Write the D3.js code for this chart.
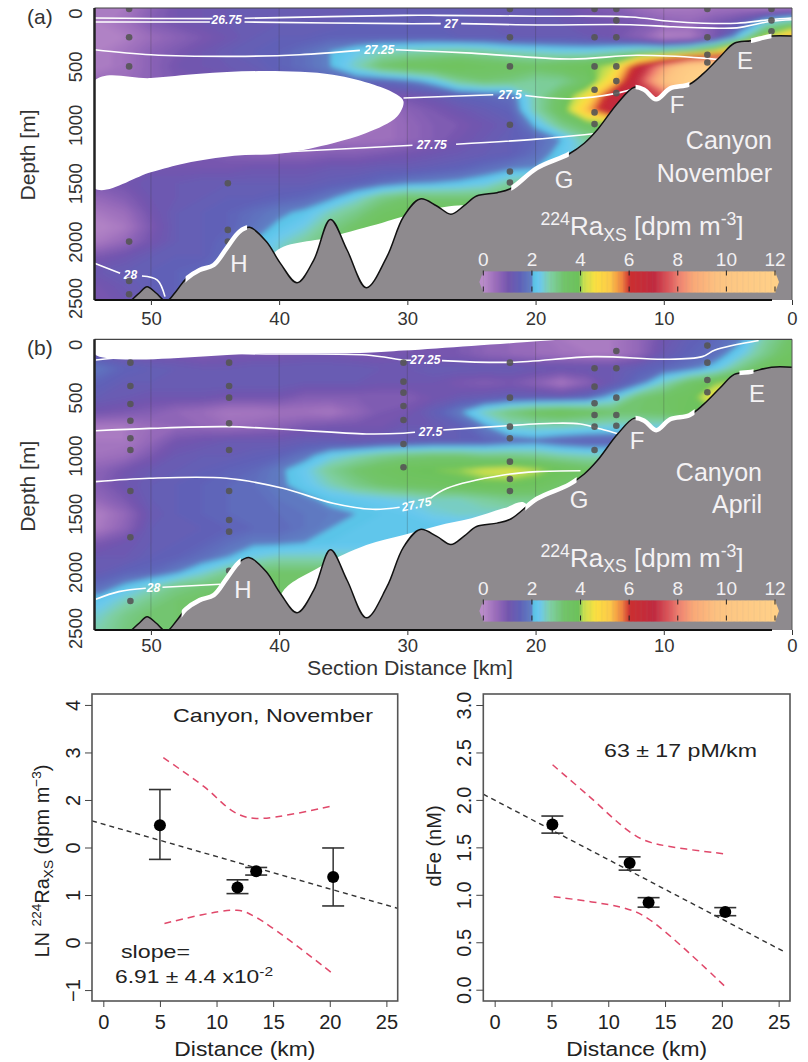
<!DOCTYPE html>
<html>
<head>
<meta charset="utf-8">
<script src="https://cdn.jsdelivr.net/npm/d3@7"></script>
<style>
  body { margin: 0; background: #fff; }
  text { font-family: "Liberation Sans", Arial, sans-serif; }
</style>
</head>
<body>
<div id="chart"></div>
<script>

// section grid: columns are km 56,54,...,0 and rows are depth 0,125,...,2500
var gridKm = d3.range(56, -1, -2);
var gridDepth = d3.range(0, 2501, 125);

var raNovember = [
  [.2,.2,.3,.7,1, 1.1,1.2,1.3,1.3,1.3, 1.3,1.3,1.3,1.3,1.3, 1.3,1.3,1.3,1.3,1.1, .9,.8,.5,.3,.3, .4,.4,.3,.4],
  [.2,.2,.4,.8,1, 1.1,1.2,1.3,1.3,1.3, 1.3,1.4,1.4,1.4,1.4, 1.4,1.3,1.3,1.3,1.2, 1.1,1,.9,.7,.6, .9,1.3,2.4,3],
  [.1,.1,.2,.5,.7, .9,1.1,1.3,1.4,1.4, 1.5,1.5,1.5,1.5,1.5, 1.4,1.4,1.3,1.3,1.3, 1.2,1,.7,.1,.2, .9,2.4,4.2,5.5],
  [.2,.2,.4,.7,.9, 1.1,1.3,1.4,1.5,1.7, 2,2.3,2.6,2.7,2.8, 2.9,2.8,2.6,2.5,2.4, 2.4,2.6,2.9,3.1,3.5, 4.4,6,6,6],
  [.2,.2,.4,.7,1, 1.1,1.2,1.3,1.5,1.7, 2,2.6,3.3,3.6,3.7, 3.8,3.6,3.5,3.4,3.6, 3.8,4.2,6.5,8.5,11, 12,12,12,12],
  [.5,.5,.5,.7,.9, 1,1,1.2,1.3,1.4, 1.5,1.6,1.6,1.8,2.2, 2.9,3.2,3.1,2.8,2.9, 3.4,4.9,7.2,9.5,12, 12,12,12,12],
  [.5,.5,.5,.6,.8, .9,.9,1,1,1, 1,1,.9,1,1.2, 1.5,1.6,1.7,2.7,3.5, 4.5,6.6,7,7.5,9, 9,9,9,9],
  [.5,.5,.5,.6,.7, .7,.7,.7,.7,.7, .3,.3,.4,.7,.9, 1.1,1.3,1.5,2.7,3.6, 5.3,7,7,7,7, 7,7,7,7],
  [.5,.5,.5,.6,.7, .7,.7,.7,.5,.3, .2,.3,.4,.6,.8, .9,1.1,1.3,2.1,3, 3.5,3.8,3.8,3.8,3.8, 3.8,3.8,3.8,3.8],
  [.5,.5,.5,.6,.7, .7,.7,.7,.6,.5, .4,.4,.4,.6,.8, 1,1.2,1.4,1.6,2, 2.8,3,3,3,3, 3,3,3,3],
  [.7,.7,.8,.9,.9, .9,.8,.7,.7,.7, .8,.8,.9,1,1.1, 1.2,1.3,1.4,1.7,2.2, 2.6,2.6,2.6,2.6,2.6, 2.6,2.6,2.6,2.6],
  [.9,.9,.9,1,1, 1,1,1.1,1.1,1.1, 1.2,1.2,1.3,1.3,1.4, 1.5,1.7,1.9,2,2.2, 2.4,2.4,2.4,2.4,2.4, 2.4,2.4,2.4,2.4],
  [1,.9,1,1.2,1.2, 1.3,1.3,1.3,1.3,1.3, 1.4,1.5,1.7,1.9,2, 2.1,2.3,2.8,3,3, 3,3,3,3,3, 3,3,3,3],
  [.6,.6,.8,1.1,1.2, 1.3,1.4,1.4,1.5,1.6, 1.9,2.4,3,3.3,3.2, 3.2,3.2,3.3,3.3,3.3, 3.3,3.3,3.3,3.3,3.3, 3.3,3.3,3.3,3.3],
  [.3,.3,.5,1,1.3, 1.4,1.5,1.7,1.9,2.1, 2.6,3,3.5,3.7,3.6, 3.6,3.6,3.6,3.6,3.6, 3.6,3.6,3.6,3.6,3.6, 3.6,3.6,3.6,3.6],
  [.1,.1,.3,.9,1.3, 1.4,1.5,1.8,2.1,2.4, 3,3.4,3.8,3.8,3.8, 3.8,3.8,3.8,3.8,3.8, 3.8,3.8,3.8,3.8,3.8, 3.8,3.8,3.8,3.8],
  [.3,.3,.6,1,1.3, 1.4,1.6,2,2.4,2.8, 3.2,3.5,3.6,3.6,3.6, 3.6,3.6,3.6,3.6,3.6, 3.6,3.6,3.6,3.6,3.6, 3.6,3.6,3.6,3.6],
  [.9,.9,1.1,1.3,1.4, 1.4,1.7,2.1,2.6,3, 3.2,3.2,3.2,3.2,3.2, 3.2,3.2,3.2,3.2,3.2, 3.2,3.2,3.2,3.2,3.2, 3.2,3.2,3.2,3.2],
  [1.2,1.2,1.3,1.4,1.5, 1.6,1.8,2.1,2.1,2.1, 2.1,2.1,2.1,2.1,2.1, 2.1,2.1,2.1,2.1,2.1, 2.1,2.1,2.1,2.1,2.1, 2.1,2.1,2.1,2.1],
  [1,1,1.2,1.4,1.5, 1.6,1.6,1.6,1.6,1.6, 1.6,1.6,1.6,1.6,1.6, 1.6,1.6,1.6,1.6,1.6, 1.6,1.6,1.6,1.6,1.6, 1.6,1.6,1.6,1.6],
  [.9,.9,1.1,1.3,1.5, 1.6,1.6,1.6,1.6,1.6, 1.6,1.6,1.6,1.6,1.6, 1.6,1.6,1.6,1.6,1.6, 1.6,1.6,1.6,1.6,1.6, 1.6,1.6,1.6,1.6]
];

var raApril = [
  [1.1,1.1,1,.9,.9, .8,.9,.9,.9,1, 1,.9,.9,1,.9, .9,.7,.6,.5,.3, .2,.3,.6,1.1,1.4, 1.6,1.9,2.8,3.4],
  [1.2,1.2,1,.9,.9, .8,.9,.9,.9,1, 1,.9,.9,1,.9, .9,.7,.6,.5,.4, .3,.3,.6,1.2,1.5, 1.7,2.3,3,3.6],
  [1.8,1.8,1.5,1.4,1.3, 1.2,1.2,1.3,1.3,1.3, 1.3,1.3,1.2,1.2,1.3, 1.3,1.3,1.3,1.2,1.2, 1.2,1.2,1.4,1.6,1.8, 2.2,3,3.6,3.6],
  [1.5,1.5,1.3,1.3,1.3, 1.3,1.3,1.3,1.3,1.2, 1.2,1.2,1.1,1.1,1.1, .9,.8,.9,.7,.3, .7,1.2,1.7,2.6,3.4, 3.9,4.2,4.2,4.2],
  [1.3,1.3,1.2,1.1,1.1, 1.1,1,1,1,.8, .8,.8,.8,.8,1, 1.2,1.3,1.4,1.4,1.4, 1.6,2.2,3.2,3.5,3.7, 4.6,4.6,4.6,4.6],
  [1,1,.9,.8,.6, .5,.3,.3,.4,.4, .3,.6,.9,1,1.4, 1.9,2.6,3.1,3.5,3.7, 3.5,3.3,3.3,3.4,3.8, 3.8,3.8,3.8,3.8],
  [.3,.3,.3,.5,.6, .6,.5,.6,.7,.9, 1,1,1,1.2,1.2, 1.4,1.9,2.5,2.6,2.6, 2.5,2.4,2.4,2.4,2.4, 2.4,2.4,2.4,2.4],
  [.3,.3,.3,.6,1, 1.1,1.2,1.2,1.2,1.3, 1.3,1.2,1.3,1.3,1.4, 1.4,1.5,1.7,1.8,1.6, 1.5,1.5,1.5,1.5,1.5, 1.5,1.5,1.5,1.5],
  [.4,.4,.5,.9,1.2, 1.3,1.3,1.4,1.5,1.8, 2.3,2.6,2.9,3.1,3.2, 3.2,3,3,2.9,2.7, 2.6,2.6,2.6,2.6,2.6, 2.6,2.6,2.6,2.6],
  [.7,.7,1,1.2,1.3, 1.4,1.5,1.6,1.9,2.3, 2.9,3.3,3.6,3.8,3.9, 4,4.2,4.3,4.1,3.8, 3.5,3.5,3.5,3.5,3.5, 3.5,3.5,3.5,3.5],
  [.8,.8,1.1,1.3,1.4, 1.5,1.6,1.7,1.9,2.2, 2.6,3,3.3,3.5,3.6, 3.7,3.8,3.8,3.7,3.4, 3.3,3.3,3.3,3.3,3.3, 3.3,3.3,3.3,3.3],
  [.6,.6,.9,1.3,1.4, 1.5,1.6,1.6,1.8,1.9, 2.1,2.2,2.3,2.4,2.6, 2.6,2.8,3,3,3, 3,3,3,3,3, 3,3,3,3],
  [.2,.2,.6,1.2,1.4, 1.5,1.6,1.6,1.7,1.8, 1.9,2,2.1,2.2,2.4, 2.5,2.5,2.5,2.5,2.5, 2.5,2.5,2.5,2.5,2.5, 2.5,2.5,2.5,2.5],
  [.3,.3,.7,1.3,1.4, 1.4,1.5,1.6,1.6,1.8, 2,2.1,2.1,2.1,2.1, 2.1,2.1,2.1,2.1,2.1, 2.1,2.1,2.1,2.1,2.1, 2.1,2.1,2.1,2.1],
  [.9,.9,1.1,1.3,1.4, 1.5,1.7,1.9,1.9,2, 2.1,2.1,2.1,2.1,2.1, 2.1,2.1,2.1,2.1,2.1, 2.1,2.1,2.1,2.1,2.1, 2.1,2.1,2.1,2.1],
  [1.2,1.2,1.2,1.4,1.5, 1.7,2,2.4,2.6,2.6, 2.6,2.6,2.6,2.6,2.6, 2.6,2.6,2.6,2.6,2.6, 2.6,2.6,2.6,2.6,2.6, 2.6,2.6,2.6,2.6],
  [1.3,1.3,1.5,1.6,1.9, 2.4,2.9,3.2,3.3,3.3, 3.3,3.3,3.3,3.3,3.3, 3.3,3.3,3.3,3.3,3.3, 3.3,3.3,3.3,3.3,3.3, 3.3,3.3,3.3,3.3],
  [1.7,1.7,2.1,2.5,3, 3.2,3.3,3.4,3.4,3.4, 3.4,3.4,3.4,3.4,3.4, 3.4,3.4,3.4,3.4,3.4, 3.4,3.4,3.4,3.4,3.4, 3.4,3.4,3.4,3.4],
  [2.2,2.2,2.6,3,3.3, 3.4,3.4,3.4,3.4,3.4, 3.4,3.4,3.4,3.4,3.4, 3.4,3.4,3.4,3.4,3.4, 3.4,3.4,3.4,3.4,3.4, 3.4,3.4,3.4,3.4],
  [2.5,2.5,3,3.3,3.3, 3.4,3.4,3.4,3.4,3.4, 3.4,3.4,3.4,3.4,3.4, 3.4,3.4,3.4,3.4,3.4, 3.4,3.4,3.4,3.4,3.4, 3.4,3.4,3.4,3.4],
  [2.7,2.7,3.1,3.3,3.3, 3.4,3.4,3.4,3.4,3.4, 3.4,3.4,3.4,3.4,3.4, 3.4,3.4,3.4,3.4,3.4, 3.4,3.4,3.4,3.4,3.4, 3.4,3.4,3.4,3.4]
];

// colour table
var raStops = [0, .5, 1, 1.5, 1.95, 2.05, 2.3, 2.7, 3.3, 3.9, 4.1, 4.6, 5.2, 5.7, 6, 7, 7.7, 8, 8.6, 9.5, 10, 12];
var raColors = ["#b98bc9","#9a6cbb","#7355ae","#5f62b8","#5f7fc4","#5ac4e8","#6cc9f0","#7fd0a8","#72c46a","#6cc25a",
  "#c8e050","#fce040","#fcc84a","#ee8040","#cc2f30","#c02a40","#e06060","#ee8070","#f9a878","#fcc080","#fdc683","#ffd088"];

// sea floor, [km, depth]
var seaFloor = [[51.6,2510],[50.9,2440],[50.3,2386],[49.6,2440],[48.8,2510],[48,2420],[47.3,2323],[46.2,2243],[45.1,2200],[44.1,2058],[43.1,1915],
  [42.3,1878],[41,2000],[39.9,2186],[38.6,2352],[37.3,2158],[36,1810],[34.7,2072],[33.2,2395],[31.6,2130],[30.3,1787],[29,1635],
  [27.7,1695],[26.6,1765],[25.6,1695],[24.6,1610],[23,1581],[21.9,1543],[19.9,1371],[17.4,1250],[16.2,1158],[15.2,1045],[13.6,815],
  [12.3,678],[11.5,702],[10.6,782],[9.5,688],[8,653],[6.9,560],[5.6,417],[4.5,302],[3.2,280],[1.6,240],[0,240]];

// density contours, null marks the gap for the label
var isoNov26_75 = [[54.4,86],[45.4,91],[45.2,90],null,[42.7,88],[30.3,63],[27.7,63],[19.9,70],[12.6,77],[9.5,114],[6.9,130],[4.3,130],[1.7,100],[0,86]];
var isoNov27 = [[54.4,120],[45.4,120],null,[42.7,120],[30.3,134],[27.4,134],null,[25.8,134],[19.9,145],[12.6,143],[9.5,160],[6.9,170],[4.3,170],[1.7,115],[0,100]];
var isoNov27_25 = [[54.4,357],[50,400],[43.5,414],[38.4,400],[33.7,363],null,[30.9,357],[25,386],[17.3,437],[12.1,405],[6.9,429],[5.6,443]];
var isoNov27_5 = [[30.3,771],[23.3,743],null,[20.8,749],[17.3,777],[13.6,729],[12.3,690]];
var isoNov27_75 = [[41.7,1243],[30.3,1180],[29.6,1175],null,[26.2,1166],[19.9,1123],[15.5,1077]];
var isoNov28 = [[54.4,2186],[52.4,2271],null,[50.7,2294],[49.5,2329],[48.9,2471]];

var isoApr27_25 = [[54.3,178],[50.1,135],[47.2,120],[41,126],[33.2,135],[30.3,178],[29.7,180],null,[27.3,183],[21.9,198],[15.4,149],[9.9,172],[7,149],[6,92],[2.6,11]];
var isoApr27_5 = [[54.3,786],[50.1,766],[44.1,751],[39.7,774],[33.2,814],[30.3,808],[29.4,800],null,[27.2,780],[22.5,745],[18.6,722],[16.5,728],[14.9,771],[13.5,814]];
var isoApr27_75 = [[54.3,1224],[50.1,1195],[44.1,1195],[39.7,1281],[35.8,1410],[32.7,1462],[30.6,1445],null,[28.2,1367],[26.9,1281],[22.5,1167],[19.9,1138],[16.5,1130]];
var isoApr28 = [[54.3,2236],[52.5,2170],[50.4,2141],null,[49.1,2133],[47.2,2122],[44.6,2107]];

// areas with no data
var noDataNovNose = [[54.4,623],[50,600],[46.2,563],[41,540],[35.8,571],[32.6,657],[30.8,743],[30.3,800],[30.8,929],[33.2,1071],[35.8,1157],
  [39.7,1243],[43.5,1266],[47.3,1329],[50,1406],[54.4,1543]];
var noDataNovFloor = [[40.4,2100],[36,1960],[32,1840],[30.3,1786],[27.5,1710],[26,1690],[25.5,1700],[25.5,2500],[40.4,2500]];
var noDataAprTop = [[54.4,0],[54.4,126],[41,120],[33.2,115],[30.3,97],[25,57],[19.9,17],[18.1,0]];
var noDataAprFloor = [[39.8,2185],[36.8,1955],[33.2,1769],[30.3,1683],[27.7,1605],[25,1540],[22.5,1454],[20.8,1410],[20.8,2500],[39.8,2500]];

// stations, depths of the samples
var stationsNov = [
  {km: 51.7, depths: [9,251,500,2000,2337,2451]},
  {km: 44, depths: [1500,1900,2000]},
  {km: 22, depths: [9,251,500,1000,1400,1494]},
  {km: 15.4, depths: [9,251,500,700,894,994]},
  {km: 13.7, depths: [9,106,251,500,626,729]},
  {km: 6.6, depths: [9,251,400,466]},
  {km: 1.6, depths: [9,106,200]}
];
var stationsApr = [
  {km: 51.6, depths: [201,401,556,700,851,952,1305,1703,2251]},
  {km: 43.9, depths: [201,401,502,722,952,1305,1554,1654,1990]},
  {km: 30.3, depths: [201,364,459,573,694,900,1101]},
  {km: 22, depths: [201,502,751,851,1052,1201,1305]},
  {km: 15.4, depths: [249,407,550,651,751,952]},
  {km: 13.7, depths: [100,249,502,651,743]},
  {km: 6.6, depths: [54,201,350,456]}
];

var kmTicks = [50, 40, 30, 20, 10, 0];
var depthTicks = [0, 500, 1000, 1500, 2000, 2500];
var barTicks = [0, 2, 4, 6, 8, 10, 12];

// lower plots
var distTicks = [0, 5, 10, 15, 20, 25];

var raPoints = [
  {x: 5, y: 1.47, lo: .75, hi: 2.22},
  {x: 11.85, y: .16, lo: .03, hi: .32},
  {x: 13.5, y: .5, lo: .42, hi: .58},
  {x: 20.3, y: .38, lo: -.23, hi: .99}
];
var raFit = [[-1,1.56],[26,-.28]];
var raUpper = [[5.3,2.89],[8.9,2.28],[11.6,1.74],[13.5,1.61],[20.3,1.88]];
var raLower = [[5.4,-.6],[11.8,-.32],[13.5,-.47],[20.4,-1.68]];
var raYTicks = [4, 3, 2, 1, 0, -1, -2];
var raYLabels = ["4", "3", "2", "0", "1", "0", "\u22121"];

var fePoints = [
  {x: 5.08, y: 1.74, lo: 1.65, hi: 1.83},
  {x: 11.88, y: 1.335, lo: 1.26, hi: 1.4},
  {x: 13.55, y: .92, lo: .87, hi: .97},
  {x: 20.3, y: .82, lo: .78, hi: .865}
];
var feFit = [[-1,2.06],[25.5,.4]];
var feUpper = [[5.1,2.37],[8.2,2.05],[12,1.655],[13.8,1.55],[20.4,1.43]];
var feLower = [[5.2,.98],[11.4,.86],[13.5,.75],[20.4,.02]];
var feYTicks = [0, .5, 1, 1.5, 2, 2.5, 3];


var svg = d3.select("#chart").append("svg")
    .attr("width", 808)
    .attr("height", 1062)
    .style("display", "block");

var defs = svg.append("defs");
var blur = defs.append("filter").attr("id", "soft")
    .attr("x", "-5%").attr("y", "-5%").attr("width", "110%").attr("height", "110%");
blur.append("feGaussianBlur").attr("stdDeviation", 2.5);

var raColor = d3.scaleLinear().domain(raStops).range(raColors).clamp(true);

// sup and sub text pieces, each piece is [string, "sup"|"sub"|undefined]
function richText(sel, parts, size) {
  var shift = 0;
  parts.forEach(function(p) {
    var want = p[1] == "sup" ? -size * .38 : p[1] == "sub" ? size * .22 : 0;
    sel.append("tspan")
        .attr("dy", want - shift)
        .attr("font-size", p[1] ? size * .68 : size)
        .text(p[0]);
    shift = want;
  });
}

function drawSection(p) {
  var x = d3.scaleLinear().domain([54.4, 0]).range([94.5, 792]);
  var y = d3.scaleLinear().domain([0, 2500]).range([p.top, p.bottom]);
  var g = svg.append("g");

  defs.append("clipPath").attr("id", "clip" + p.id)
    .append("rect")
      .attr("x", 94.5).attr("y", p.top)
      .attr("width", 792 - 94.5).attr("height", p.bottom - p.top);

  var plot = g.append("g").attr("clip-path", "url(#clip" + p.id + ")");

  // colour field as filled contours
  var nx = gridKm.length, ny = gridDepth.length;
  var contours = d3.contours()
      .size([nx, ny])
      .thresholds(d3.range(.1, 12, .1));
  var toScreen = d3.geoTransform({
    point: function(i, j) {
      this.stream.point(x(56 - 2 * (i - .5)), y(125 * (j - .5)));
    }
  });
  var path = d3.geoPath(toScreen);
  var field = plot.append("g").attr("filter", "url(#soft)");
  field.append("rect")
      .attr("x", 70).attr("y", p.top - 20)
      .attr("width", 740).attr("height", p.bottom - p.top + 40)
      .attr("fill", raColor(0));
  field.selectAll("path")
    .data(contours(d3.merge(p.values)))
    .enter().append("path")
      .attr("d", path)
      .attr("fill", function(d) { return raColor(d.value + .05); });

  var line = d3.line()
      .defined(function(d) { return d != null; })
      .x(function(d) { return x(d[0]); })
      .y(function(d) { return y(d[1]); })
      .curve(d3.curveCatmullRom);

  // thin km grid
  plot.selectAll(".km")
    .data(kmTicks.slice(0, 5))
    .enter().append("line")
      .attr("x1", x).attr("x2", x)
      .attr("y1", p.top).attr("y2", p.bottom)
      .attr("stroke", "#333").attr("stroke-opacity", .3).attr("stroke-width", .8);

  // no data patches
  var patch = d3.line()
      .x(function(d) { return x(d[0]); })
      .y(function(d) { return y(d[1]); })
      .curve(d3.curveCatmullRomClosed);
  p.noData.forEach(function(d) {
    plot.append("path").attr("d", patch(d)).attr("fill", "#fff");
  });

  // density contours
  p.iso.forEach(function(d) {
    plot.append("path")
        .attr("d", line(d))
        .attr("fill", "none")
        .attr("stroke", "#fff")
        .attr("stroke-width", 1.6);
  });
  p.isoLabels.forEach(function(d) {
    plot.append("text")
        .attr("transform", "translate(" + x(d.km) + "," + y(d.depth) + ") rotate(" + (d.rot || 0) + ")")
        .attr("text-anchor", "middle")
        .attr("dy", "0.36em")
        .attr("fill", "#fff")
        .attr("font-size", 12)
        .attr("font-weight", "bold")
        .attr("font-style", "italic")
        .text(d.label);
  });

  // sea floor
  var floor = d3.area()
      .x(function(d) { return x(d[0]); })
      .y0(p.bottom + 10)
      .y1(function(d) { return y(d[1]); })
      .curve(d3.curveCatmullRom);
  plot.append("path").attr("d", floor(seaFloor)).attr("fill", "#8e8a8e");
  plot.append("path").attr("d", line(seaFloor))
      .attr("fill", "none").attr("stroke", "#111").attr("stroke-width", 1.5);

  // samples
  p.stations.forEach(function(s) {
    plot.selectAll(null)
      .data(s.depths)
      .enter().append("circle")
        .attr("cx", x(s.km))
        .attr("cy", y)
        .attr("r", 3.3)
        .attr("fill", "#555")
        .attr("fill-opacity", .9);
  });

  // white pieces of the slope
  p.spans.forEach(function(s, i) {
    var id = "span" + p.id + i;
    defs.append("clipPath").attr("id", id)
      .append("rect")
        .attr("x", x(s[0])).attr("y", p.top)
        .attr("width", x(s[1]) - x(s[0])).attr("height", p.bottom - p.top);
    g.append("path")
        .attr("d", line(seaFloor))
        .attr("clip-path", "url(#" + id + ")")
        .attr("fill", "none")
        .attr("stroke", "#fff")
        .attr("stroke-width", 4.5);
  });

  // colour bar
  var bar = d3.scaleLinear().domain([0, 12]).range([483.3, 775]);
  var barY = p.barTop, barH = 21;
  g.selectAll(".cb")
    .data(d3.range(0, 12, .05))
    .enter().append("rect")
      .attr("x", function(d) { return bar(d); })
      .attr("y", barY)
      .attr("width", bar(.05) - bar(0) + .5)
      .attr("height", barH)
      .attr("fill", function(d) { return raColor(d); });
  g.append("path")
      .attr("d", "M" + bar(0) + "," + barY + "L" + (bar(0) - 4) + "," + (barY + barH / 2) + "L" + bar(0) + "," + (barY + barH) + "Z")
      .attr("fill", raColor(0));
  g.append("path")
      .attr("d", "M" + bar(12) + "," + barY + "L" + (bar(12) + 4) + "," + (barY + barH / 2) + "L" + bar(12) + "," + (barY + barH) + "Z")
      .attr("fill", raColor(12));
  barTicks.forEach(function(t) {
    g.append("line")
        .attr("x1", bar(t)).attr("x2", bar(t))
        .attr("y1", barY - 1).attr("y2", barY + barH + 1)
        .attr("stroke", "#222").attr("stroke-width", 1)
        .attr("stroke-dasharray", "5,11");
    g.append("text")
        .attr("x", bar(t))
        .attr("y", barY - 6)
        .attr("text-anchor", "middle")
        .attr("fill", "#f2f0f2")
        .attr("font-size", 19)
        .text(t);
  });

  // text on the sea floor
  p.letters.forEach(function(d) {
    g.append("text")
        .attr("x", d.x).attr("y", d.y)
        .attr("text-anchor", "middle")
        .attr("fill", "#f4f2f4")
        .attr("font-size", 24)
        .text(d.t);
  });
  p.names.forEach(function(d) {
    g.append("text")
        .attr("x", d.x).attr("y", d.y)
        .attr("text-anchor", "end")
        .attr("fill", "#f4f2f4")
        .attr("font-size", 25)
        .text(d.t);
  });
  var barTitle = g.append("text")
      .attr("x", 642)
      .attr("y", p.titleY)
      .attr("text-anchor", "middle")
      .attr("fill", "#f4f2f4");
  richText(barTitle, [["224", "sup"], ["Ra"], ["XS", "sub"], [" [dpm m"], ["-3", "sup"], ["]"]], 26);

  // frame
  g.append("line").attr("x1", 94.5).attr("x2", 792).attr("y1", p.top).attr("y2", p.top)
      .attr("stroke", "#444").attr("stroke-width", 1.2);
  g.append("line").attr("x1", 792).attr("x2", 792).attr("y1", p.top).attr("y2", p.bottom)
      .attr("stroke", "#555").attr("stroke-width", 1);
  g.append("line").attr("x1", 94.5).attr("x2", 94.5).attr("y1", p.top).attr("y2", p.bottom)
      .attr("stroke", "#222").attr("stroke-width", 2.5);
  g.append("line").attr("x1", 94.5).attr("x2", 772).attr("y1", p.bottom).attr("y2", p.bottom)
      .attr("stroke", "#111").attr("stroke-width", 2);

  // axes
  var xAxis = g.append("g")
      .attr("transform", "translate(0," + p.bottom + ")")
      .call(d3.axisBottom(x).tickValues(kmTicks).tickSize(5).tickPadding(p.tickPad));
  xAxis.select(".domain").remove();
  xAxis.selectAll("line").attr("stroke", "#333");
  xAxis.selectAll("text").attr("font-size", 18.5).attr("fill", "#333")
      .style("font-family", "\"Liberation Sans\"");

  var yAxis = g.append("g")
      .attr("transform", "translate(94.5,0)")
      .call(d3.axisLeft(y).tickValues(depthTicks).tickSize(0).tickFormat(d3.format("d")));
  yAxis.select(".domain").remove();
  yAxis.selectAll("text")
      .attr("font-size", 18.5)
      .attr("fill", "#333")
      .style("font-family", "\"Liberation Sans\"")
      .attr("x", 0).attr("dy", 0)
      .attr("text-anchor", "middle")
      .attr("transform", function(d) {
        return "translate(-13," + (d == 0 ? 5 : d == 2500 ? -2 : 0) + ") rotate(-90)";
      });

  g.append("text")
      .attr("transform", "translate(35," + (p.top + 147) + ") rotate(-90)")
      .attr("text-anchor", "middle")
      .attr("fill", "#333")
      .attr("font-size", 21)
      .text("Depth [m]");
  g.append("text")
      .attr("x", 27).attr("y", p.top + 16)
      .attr("fill", "#333")
      .attr("font-size", 21)
      .text(p.tag);
}

drawSection({
  id: "a", tag: "(a)", top: 8, bottom: 300, barTop: 271.5, titleY: 235, tickPad: 7,
  values: raNovember,
  noData: [noDataNovNose, noDataNovFloor],
  stations: stationsNov,
  iso: [isoNov26_75, isoNov27, isoNov27_25, isoNov27_5, isoNov27_75, isoNov28],
  isoLabels: [
    {label: "26.75", km: 44.1, depth: 100},
    {label: "27", km: 26.6, depth: 130},
    {label: "27.25", km: 32.2, depth: 357},
    {label: "27.5", km: 22, depth: 743},
    {label: "27.75", km: 28.1, depth: 1170},
    {label: "28", km: 51.6, depth: 2283}
  ],
  spans: [[47.3, 42.5], [21.9, 17.4], [12.2, 8], [3.2, 1.6]],
  letters: [{t: "E", x: 745, y: 69}, {t: "F", x: 677, y: 113}, {t: "G", x: 564, y: 188}, {t: "H", x: 239, y: 272}],
  names: [{t: "Canyon", x: 772, y: 149}, {t: "November", x: 772, y: 182}]
});

drawSection({
  id: "b", tag: "(b)", top: 339.3, bottom: 630, barTop: 600.5, titleY: 566.5, tickPad: 4,
  values: raApril,
  noData: [noDataAprTop, noDataAprFloor],
  stations: stationsApr,
  iso: [isoApr27_25, isoApr27_5, isoApr27_75, isoApr28],
  isoLabels: [
    {label: "27.25", km: 28.6, depth: 178},
    {label: "27.5", km: 28.2, depth: 794},
    {label: "27.75", km: 29.3, depth: 1417, rot: -12},
    {label: "28", km: 49.8, depth: 2136}
  ],
  spans: [[47.6, 43], [20.8, 16.8], [12.2, 7.6], [4.1, 3]],
  letters: [{t: "E", x: 757, y: 402}, {t: "F", x: 637, y: 449}, {t: "G", x: 579, y: 508}, {t: "H", x: 243, y: 598}],
  names: [{t: "Canyon", x: 762, y: 481}, {t: "April", x: 762, y: 513}]
});

svg.append("text")
    .attr("x", 410).attr("y", 675)
    .attr("text-anchor", "middle")
    .attr("fill", "#333")
    .attr("font-size", 20)
    .attr("textLength", 206)
    .attr("lengthAdjust", "spacingAndGlyphs")
    .text("Section Distance [km]");


function drawScatter(p) {
  var x = d3.scaleLinear().domain([-1, 26]).range([p.left, p.right]);
  var y = d3.scaleLinear().domain(p.yDomain).range([1001, 694]);
  var g = svg.append("g");

  var line = d3.line()
      .x(function(d) { return x(d[0]); })
      .y(function(d) { return y(d[1]); });

  g.append("path").attr("d", line(p.fit))
      .attr("fill", "none").attr("stroke", "#333")
      .attr("stroke-width", 1.4).attr("stroke-dasharray", "5,4");
  [p.upper, p.lower].forEach(function(d) {
    g.append("path").attr("d", line.curve(d3.curveCatmullRom)(d))
        .attr("fill", "none").attr("stroke", "#e0486a")
        .attr("stroke-width", 1.5).attr("stroke-dasharray", "7,5");
  });
  line.curve(d3.curveLinear);

  var bars = g.selectAll(".pt")
    .data(p.points)
    .enter().append("g");
  bars.append("line")
      .attr("x1", function(d) { return x(d.x); })
      .attr("x2", function(d) { return x(d.x); })
      .attr("y1", function(d) { return y(d.lo); })
      .attr("y2", function(d) { return y(d.hi); })
      .attr("stroke", "#333").attr("stroke-width", 1.5);
  ["lo", "hi"].forEach(function(k) {
    bars.append("line")
        .attr("x1", function(d) { return x(d.x) - 11; })
        .attr("x2", function(d) { return x(d.x) + 11; })
        .attr("y1", function(d) { return y(d[k]); })
        .attr("y2", function(d) { return y(d[k]); })
        .attr("stroke", "#333").attr("stroke-width", 1.6);
  });
  bars.append("circle")
      .attr("cx", function(d) { return x(d.x); })
      .attr("cy", function(d) { return y(d.y); })
      .attr("r", 6)
      .attr("fill", "#000");

  g.append("rect")
      .attr("x", p.left).attr("y", 694)
      .attr("width", p.right - p.left).attr("height", 307)
      .attr("fill", "none").attr("stroke", "#555").attr("stroke-width", 1.6);

  var xAxis = g.append("g")
      .attr("transform", "translate(0,1001)")
      .call(d3.axisBottom(x).tickValues(distTicks).tickSize(6).tickPadding(8));
  xAxis.select(".domain").remove();
  xAxis.selectAll("line").attr("stroke", "#444");
  xAxis.selectAll("text")
      .attr("font-size", 20).attr("fill", "#222")
      .style("font-family", "\"Liberation Sans\"");

  var yAxis = g.append("g")
      .attr("transform", "translate(" + p.left + ",0)")
      .call(d3.axisLeft(y).tickValues(p.yTicks).tickSize(7).tickFormat(p.yFormat));
  yAxis.select(".domain").remove();
  yAxis.selectAll("line").attr("stroke", "#444");
  yAxis.selectAll("text")
      .attr("font-size", 20).attr("fill", "#222")
      .style("font-family", "\"Liberation Sans\"")
      .attr("x", 0).attr("dy", 0)
      .attr("text-anchor", "middle")
      .attr("transform", "translate(-12,0) rotate(-90)");

  g.append("text")
      .attr("x", (p.left + p.right) / 2 + 0).attr("y", 1056)
      .attr("text-anchor", "middle")
      .attr("fill", "#222")
      .attr("font-size", 20)
      .attr("textLength", 141)
      .attr("lengthAdjust", "spacingAndGlyphs")
      .text("Distance (km)");
}

drawScatter({
  left: 92, right: 397.7,
  yDomain: [-2.23, 4.23], yTicks: raYTicks,
  yFormat: function(d, i) { return raYLabels[i]; },
  fit: raFit, upper: raUpper, lower: raLower, points: raPoints
});

drawScatter({
  left: 483.3, right: 790,
  yDomain: [-.119, 3.116], yTicks: feYTicks,
  yFormat: d3.format(".1f"),
  fit: feFit, upper: feUpper, lower: feLower, points: fePoints
});

// free text of the lower plots
var raLabel = svg.append("text")
    .attr("transform", "translate(49,861) rotate(-90)")
    .attr("text-anchor", "middle")
    .attr("fill", "#222");
richText(raLabel, [["LN "], ["224", "sup"], ["Ra"], ["XS", "sub"], [" (dpm m"], ["\u22123", "sup"], [")"]], 20);

svg.append("text")
    .attr("transform", "translate(441,846) rotate(-90)")
    .attr("text-anchor", "middle")
    .attr("fill", "#222")
    .attr("font-size", 20)
    .text("dFe (nM)");

svg.append("text").attr("x", 173).attr("y", 722)
    .attr("fill", "#222").attr("font-size", 19)
    .attr("textLength", 200).attr("lengthAdjust", "spacingAndGlyphs")
    .text("Canyon, November");
svg.append("text").attr("x", 121).attr("y", 958)
    .attr("fill", "#222").attr("font-size", 19)
    .attr("textLength", 69).attr("lengthAdjust", "spacingAndGlyphs")
    .text("slope=");
var slope = svg.append("text").attr("transform", "translate(115,983) scale(1.2,1)").attr("fill", "#222");
richText(slope, [["6.91 \u00b1 4.4 x10"], ["-2", "sup"]], 19);
svg.append("text").attr("x", 604).attr("y", 757)
    .attr("fill", "#222").attr("font-size", 19)
    .attr("textLength", 153).attr("lengthAdjust", "spacingAndGlyphs")
    .text("63 \u00b1 17 pM/km");

</script>
</body>
</html>
